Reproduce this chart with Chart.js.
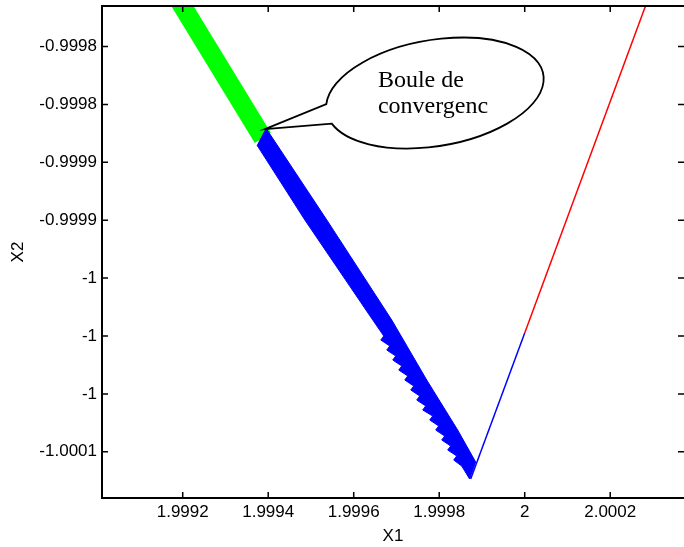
<!DOCTYPE html>
<html>
<head>
<meta charset="utf-8">
<script src="https://cdn.jsdelivr.net/npm/chart.js@4.4.0/dist/chart.umd.min.js"></script>
<style>
  html, body { margin: 0; padding: 0; background: #fff; }
  #wrap { width: 684px; height: 547px; }
</style>
</head>
<body>
<div id="wrap"><canvas id="chart" width="684" height="547"></canvas></div>
<script>
// tick values and the (rounded) labels printed for them
const xTicks = [1.9992, 1.9994, 1.9996, 1.9998, 2.0000, 2.0002];
const xTickLabels = ["1.9992", "1.9994", "1.9996", "1.9998", "2", "2.0002"];
const yTicks = [-0.99975, -0.99980, -0.99985, -0.99990, -0.99995, -1.00000, -1.00005, -1.00010];
const yTickLabels = ["-0.9998", "-0.9998", "-0.9999", "-0.9999", "-1", "-1", "-1", "-1.0001"];

// green start of the trajectory (drawn as a wide stroke)
const greenX = [1.9991764, 1.9993876];
const greenY = [-0.9997012, -0.9998290];

// blue oscillating band, outline (right edge down, ragged left edge up)
const bandX = [1.9993946, 1.9995371, 1.9996890, 1.9997708, 1.9998432, 1.9998853, 1.9998712,
               1.9998526,
               1.9998339, 1.9998409, 1.9998198, 1.9998269, 1.9998058, 1.9998128, 1.9997918, 1.9997988,
               1.9997778, 1.9997848, 1.9997614, 1.9997684, 1.9997474, 1.9997544, 1.9997334, 1.9997404,
               1.9997194, 1.9997264, 1.9997054, 1.9997124, 1.9996913, 1.9996983, 1.9996773, 1.9996843,
               1.9996633, 1.9996703,
               1.9996446, 1.9994857, 1.9993736];
const bandY = [-0.9998204, -0.9998998, -0.9999862, -1.0000380, -1.0000812, -1.0001088, -1.0001235,
               -1.0001123,
               -1.0001071, -1.0001036, -1.0000984, -1.0000950, -1.0000898, -1.0000864, -1.0000812, -1.0000777,
               -1.0000725, -1.0000691, -1.0000639, -1.0000604, -1.0000553, -1.0000518, -1.0000466, -1.0000432,
               -1.0000380, -1.0000345, -1.0000294, -1.0000259, -1.0000207, -1.0000173, -1.0000121, -1.0000086,
               -1.0000035, -1.0000000,
               -0.9999862, -0.9998998, -0.9998351];

// last blue stretch, then red
const blueX = [1.9998736, 2.0000000];
const blueY = [-1.0001235, -0.9999974];
const redX = [2.0000000, 2.0002825];
const redY = [-0.9999974, -0.9997150];

function pts(xs, ys) {
    return xs.map((v, i) => ({ x: v, y: ys[i] }));
}

Chart.defaults.font.family = "'Liberation Sans', Arial, sans-serif";
Chart.defaults.font.size = 17;
Chart.defaults.color = "#000";

// matlab style box with inward ticks on all four sides
const matlabBox = {
    id: "matlabBox",
    afterDraw(chart) {
        const { ctx, chartArea: a, scales: { x, y } } = chart;
        ctx.save();
        ctx.strokeStyle = "#000";
        ctx.lineWidth = 2;
        ctx.beginPath();
        ctx.moveTo(a.right + 1, a.top);
        ctx.lineTo(a.left, a.top);
        ctx.lineTo(a.left, a.bottom);
        ctx.lineTo(a.right + 1, a.bottom);
        ctx.lineTo(a.right + 1, a.top);
        ctx.stroke();

        ctx.lineWidth = 1.5;
        ctx.beginPath();
        xTicks.forEach(v => {
            const px = x.getPixelForValue(v);
            ctx.moveTo(px, a.bottom); ctx.lineTo(px, a.bottom - 6);
            ctx.moveTo(px, a.top); ctx.lineTo(px, a.top + 6);
        });
        yTicks.forEach(v => {
            const py = y.getPixelForValue(v);
            ctx.moveTo(a.left, py); ctx.lineTo(a.left + 6, py);
            ctx.moveTo(a.right, py); ctx.lineTo(a.right - 6, py);
        });
        ctx.stroke();
        ctx.restore();
    }
};

// speech bubble pointing at the start of the blue band
const callout = {
    id: "callout",
    afterDraw(chart) {
        const { ctx, scales: { x, y } } = chart;
        const tipX = x.getPixelForValue(bandX[0]) - 1;
        const tipY = y.getPixelForValue(bandY[0]) + 1;
        const cx = tipX + 170, cy = tipY - 36;
        ctx.save();
        ctx.beginPath();
        ctx.moveTo(tipX, tipY);
        ctx.ellipse(cx, cy, 110, 53, -0.17, -3.0, 2.9);
        ctx.closePath();
        ctx.fillStyle = "#fff";
        ctx.fill();
        ctx.lineWidth = 1.8;
        ctx.strokeStyle = "#000";
        ctx.stroke();
        ctx.fillStyle = "#000";
        ctx.font = "24px 'Liberation Serif', 'Times New Roman', serif";
        ctx.textBaseline = "alphabetic";
        ctx.fillText("Boule de", cx - 57, cy - 6);
        ctx.fillText("convergenc", cx - 57, cy + 20);
        ctx.restore();
    }
};

new Chart(document.getElementById("chart"), {
    type: "scatter",
    data: {
        datasets: [
            { data: pts(greenX, greenY), showLine: true, borderColor: "#00ff00", borderWidth: 19,
              borderCapStyle: "butt", pointRadius: 0, order: 4, clip: 0 },
            { data: pts(bandX, bandY), showLine: true, borderColor: "#0000ff", backgroundColor: "#0000ff",
              fill: "shape", borderWidth: 1, pointRadius: 0, order: 3, clip: 0 },
            { data: pts(blueX, blueY), showLine: true, borderColor: "#0000ff", borderWidth: 1.5,
              pointRadius: 0, order: 2, clip: 0 },
            { data: pts(redX, redY), showLine: true, borderColor: "#ff0000", borderWidth: 1.5,
              pointRadius: 0, order: 1, clip: 0 }
        ]
    },
    options: {
        responsive: false,
        animation: false,
        layout: { padding: { top: 6, left: 0, right: 0, bottom: 0 } },
        plugins: { legend: { display: false }, tooltip: { enabled: false } },
        scales: {
            x: {
                type: "linear",
                min: 1.9990112,
                max: 2.0003726,
                afterBuildTicks: s => { s.ticks = xTicks.map(v => ({ value: v })); },
                afterFit: s => { s.height = 49; s.paddingLeft = 0; s.paddingRight = 0; },
                grid: { display: false, drawTicks: false },
                border: { display: false },
                ticks: { padding: 4, autoSkip: false, maxRotation: 0, callback: (v, i) => xTickLabels[i] },
                title: { display: true, text: "X1", padding: { top: 0, bottom: 0 } }
            },
            y: {
                type: "linear",
                min: -1.0001399,
                max: -0.9997150,
                afterBuildTicks: s => { s.ticks = yTicks.map(v => ({ value: v })); },
                afterFit: s => { s.width = 102; s.paddingTop = 0; s.paddingBottom = 0; },
                grid: { display: false, drawTicks: false },
                border: { display: false },
                ticks: { padding: 5, autoSkip: false, callback: (v, i) => yTickLabels[i] },
                title: { display: true, text: "X2", padding: { top: 8, bottom: 0 } }
            }
        }
    },
    plugins: [matlabBox, callout]
});
</script>
</body>
</html>
